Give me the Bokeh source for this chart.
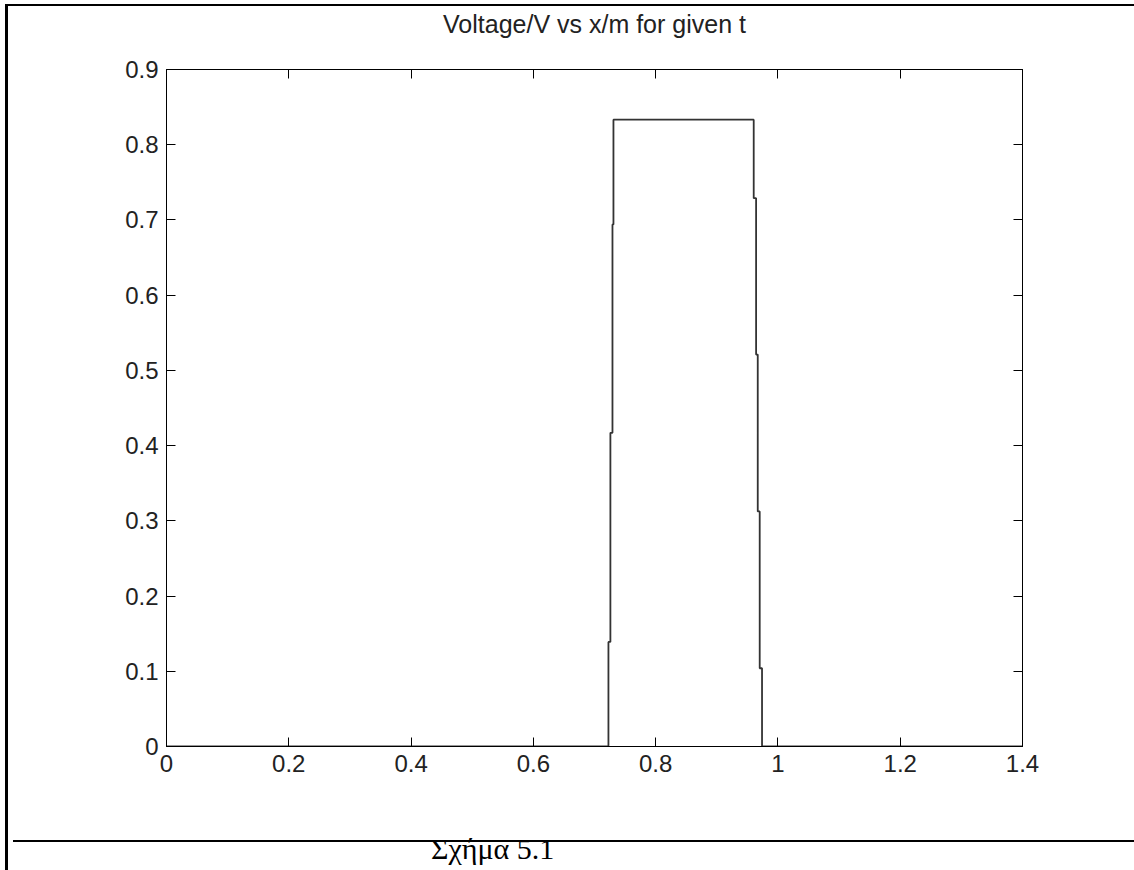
from bokeh.plotting import figure
from bokeh.models import Range1d, FixedTicker, LinearAxis, Div
from bokeh.layouts import column
from bokeh.embed import file_html
from bokeh.resources import INLINE

# ---- data ----
x_m = [0.0, 0.7228, 0.7228, 0.7260, 0.7260, 0.7294, 0.7294, 0.7310, 0.7310,
       0.9604, 0.9604, 0.9643, 0.9643, 0.9670, 0.9670, 0.9702, 0.9702, 0.9740, 0.9740, 1.4]
voltage_v = [0.0, 0.0, 0.139, 0.139, 0.417, 0.417, 0.694, 0.694, 0.8333,
             0.8333, 0.729, 0.729, 0.521, 0.521, 0.3125, 0.3125, 0.104, 0.104, 0.0, 0.0]

x_ticks = [0.0, 0.2, 0.4, 0.6, 0.8, 1.0, 1.2, 1.4]
x_tick_labels = ["0", "0.2", "0.4", "0.6", "0.8", "1", "1.2", "1.4"]
y_ticks = [0.0, 0.1, 0.2, 0.3, 0.4, 0.5, 0.6, 0.7, 0.8, 0.9]
y_tick_labels = ["0", "0.1", "0.2", "0.3", "0.4", "0.5", "0.6", "0.7", "0.8", "0.9"]

title_text = "Voltage/V vs x/m for given t"
caption_text = "Σχήμα 5.1"

FONT = "Liberation Sans"

p = figure(width=1126, height=829,
           x_range=Range1d(0, 1.4), y_range=Range1d(0, 0.9),
           output_backend="svg", toolbar_location=None,
           min_border_left=158, min_border_right=112,
           min_border_top=63, min_border_bottom=89,
           title=None)
p.background_fill_color = "white"
p.border_fill_color = "white"
p.outline_line_color = "black"
p.outline_line_width = 1
p.xgrid.visible = False
p.ygrid.visible = False

def style_axis(ax, ticks, labels, show_labels, standoff):
    ax.ticker = FixedTicker(ticks=ticks)
    ax.major_label_overrides = {t: l for t, l in zip(ticks, labels)}
    ax.major_tick_in = 9
    ax.major_tick_out = 0
    ax.minor_tick_in = 0
    ax.minor_tick_out = 0
    ax.axis_line_color = "black"
    ax.major_tick_line_color = "black"
    ax.major_label_text_font = FONT
    ax.major_label_text_font_size = "24px"
    ax.major_label_text_color = "#222222" if show_labels else None
    ax.major_label_standoff = standoff

style_axis(p.xaxis[0], x_ticks, x_tick_labels, True, 8)
style_axis(p.yaxis[0], y_ticks, y_tick_labels, True, 8)

# box axes: ticks only on top and right; the chart title sits on the top side
top_ax = LinearAxis(axis_label=title_text)
style_axis(top_ax, x_ticks, x_tick_labels, False, 0)
top_ax.axis_label_text_font = FONT
top_ax.axis_label_text_font_size = "25px"
top_ax.axis_label_text_font_style = "normal"
top_ax.axis_label_text_color = "#222222"
top_ax.axis_label_standoff = 32
p.add_layout(top_ax, "above")

right_ax = LinearAxis()
style_axis(right_ax, y_ticks, y_tick_labels, False, 0)
p.add_layout(right_ax, "right")

p.line(x_m, voltage_v, line_color="#333333", line_width=1.8)

caption = Div(text=('<div style="font-family:\'Liberation Serif\'; font-size:30px; '
                    'line-height:30px; margin-top:-8px; padding-left:418px; color:black;">'
                    + caption_text + '</div>'),
              width=1126, height=33,
              styles={"border-top": "2px solid black", "box-sizing": "border-box",
                      "overflow": "visible"})

layout = column(p, caption,
                styles={"border-left": "3px solid black", "border-top": "2px solid black",
                        "margin-left": "5px", "margin-top": "4px"})

open("out.html", "w").write(file_html(layout, INLINE))
